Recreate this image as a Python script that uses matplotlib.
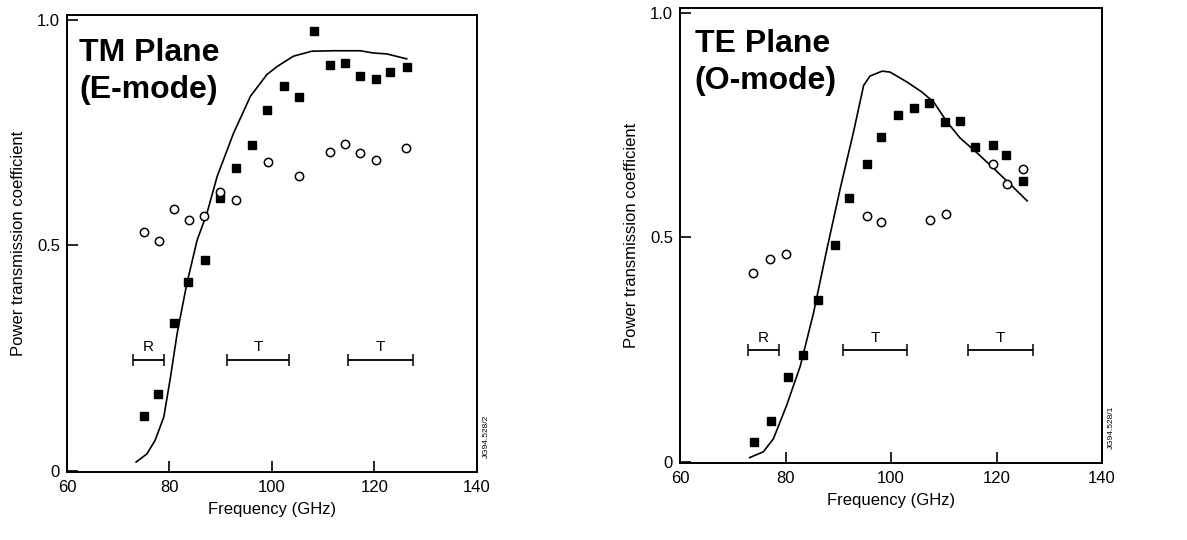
import matplotlib.pyplot as plt

# TM plane (E-mode) - left panel
tm_sq_x = [75.0, 77.8, 80.8, 83.7, 86.9, 89.9, 92.9, 96.1, 99.0, 102.3, 105.2,
           108.3, 111.4, 114.3, 117.1, 120.3, 123.1, 126.3]
tm_sq_y = [0.122, 0.170, 0.327, 0.419, 0.468, 0.604, 0.670, 0.722, 0.800, 0.852,
           0.828, 0.974, 0.899, 0.904, 0.876, 0.869, 0.884, 0.894]
tm_ci_x = [75.1, 77.9, 80.9, 83.8, 86.8, 89.9, 92.9, 99.2, 105.3, 111.4, 114.3,
           117.2, 120.3, 126.2]
tm_ci_y = [0.528, 0.509, 0.580, 0.556, 0.565, 0.617, 0.600, 0.684, 0.653, 0.707,
           0.724, 0.705, 0.689, 0.715]
tm_line_x = [73.5, 75.6, 77.2, 78.9, 80.2, 81.5, 83.4, 85.4, 87.3, 89.3, 92.5,
             95.8, 99.0, 101.0, 104.2, 107.8, 112.0, 117.2, 119.8, 122.4, 126.3]
tm_line_y = [0.019, 0.037, 0.067, 0.119, 0.207, 0.304, 0.415, 0.511, 0.570, 0.652,
             0.748, 0.830, 0.878, 0.896, 0.919, 0.930, 0.931, 0.931, 0.926, 0.924,
             0.913]
tm_bands = [(72.9, 79.0, 'R'), (91.2, 103.4, 'T'), (114.8, 127.5, 'T')]

# TE plane (O-mode) - right panel
te_sq_x = [74.1, 77.2, 80.4, 83.4, 86.1, 89.4, 92.0, 95.4, 98.1, 101.3, 104.3,
           107.2, 110.3, 113.1, 116.0, 119.3, 121.8, 125.0]
te_sq_y = [0.043, 0.090, 0.189, 0.238, 0.360, 0.482, 0.588, 0.664, 0.724, 0.772,
           0.789, 0.799, 0.756, 0.759, 0.701, 0.706, 0.684, 0.626]
te_ci_x = [73.9, 77.1, 80.1, 95.4, 98.1, 107.3, 110.5, 119.3, 122.0, 125.0]
te_ci_y = [0.421, 0.451, 0.462, 0.548, 0.535, 0.539, 0.551, 0.664, 0.618, 0.651]
te_line_x = [73.2, 75.8, 77.7, 80.2, 82.8, 85.3, 87.8, 90.4, 92.9, 94.8, 96.0,
             98.3, 99.8, 103.0, 105.8, 108.1, 110.6, 113.1, 116.3, 119.4, 122.6,
             125.8]
te_line_y = [0.009, 0.022, 0.051, 0.125, 0.213, 0.331, 0.471, 0.610, 0.735, 0.838,
             0.859, 0.870, 0.868, 0.846, 0.824, 0.801, 0.757, 0.721, 0.688, 0.654,
             0.618, 0.581]
te_bands = [(72.8, 78.8, 'R'), (90.9, 103.0, 'T'), (114.6, 126.9, 'T')]

x_ticks = [60, 80, 100, 120, 140]
y_ticks = [0, 0.5, 1.0]
y_tick_labels = ['0', '0.5', '1.0']


# Dibuja un panel completo con puntos, curva y bandas
def draw_panel(ax, sq_x, sq_y, ci_x, ci_y, line_x, line_y, bands, band_y,
               title, tag, title_pos):
    ax.plot(line_x, line_y, color='black', lw=1.2)
    ax.plot(sq_x, sq_y, 's', color='black', ms=5.8)
    ax.plot(ci_x, ci_y, 'o', mfc='white', mec='black', mew=1.1, ms=6)

    for x0, x1, lab in bands:
        ax.errorbar((x0 + x1) / 2, band_y, xerr=(x1 - x0) / 2, fmt='none',
                    ecolor='black', elinewidth=1.3, capsize=4, capthick=1.1)
        ax.text((x0 + x1) / 2, band_y + 0.012, lab, ha='center', va='bottom',
                fontsize=11, fontweight='light')

    ax.set_xlim(60, 140)
    ax.set_ylim(-0.003, 1.01)
    ax.set_xticks(x_ticks)
    ax.set_yticks(y_ticks)
    ax.set_yticklabels(y_tick_labels)
    ax.tick_params(direction='in', length=8, width=1.2, labelsize=12, pad=3)
    ax.tick_params(axis='x', pad=6)
    ax.tick_params(axis='y', pad=5)
    for s in ax.spines.values():
        s.set_linewidth(1.4)
    ax.set_xlabel('Frequency (GHz)', fontsize=12, labelpad=5)
    ax.set_ylabel('Power transmission coefficient', fontsize=12, labelpad=8)
    ax.text(title_pos[0], title_pos[1], title, transform=ax.transAxes,
            fontsize=23, fontweight='bold', family='Liberation Sans',
            ha='left', va='top', linespacing=1.3)
    ax.text(1.015, 0.03, tag, transform=ax.transAxes, rotation=90,
            fontsize=6, ha='left', va='bottom')


def main():
    plt.rcParams['font.family'] = ['Liberation Sans', 'DejaVu Sans']
    fig = plt.figure(figsize=(11.87, 5.4), dpi=100)
    ax1 = fig.add_axes([0.0564, 0.126, 0.3454, 0.846])
    ax2 = fig.add_axes([0.5729, 0.1426, 0.3555, 0.842])

    draw_panel(ax1, tm_sq_x, tm_sq_y, tm_ci_x, tm_ci_y, tm_line_x, tm_line_y,
               tm_bands, 0.246, 'TM Plane\n(E-mode)', 'JG94.528/2',
               (0.03, 0.95))
    draw_panel(ax2, te_sq_x, te_sq_y, te_ci_x, te_ci_y, te_line_x, te_line_y,
               te_bands, 0.249, 'TE Plane\n(O-mode)', 'JG94.528/1',
               (0.035, 0.955))

    fig.savefig('out.png', dpi=100)


if __name__ == "__main__":
    main()
